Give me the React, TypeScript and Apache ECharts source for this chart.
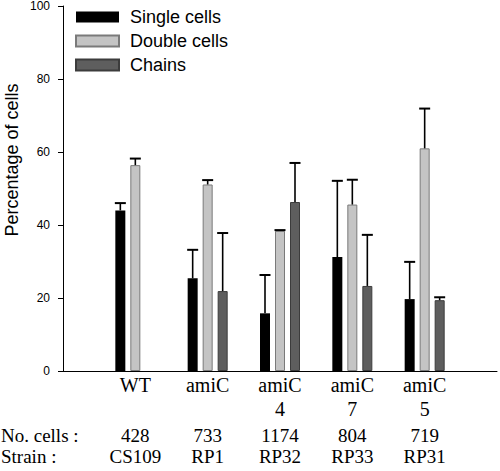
import React, { useEffect, useRef } from "react";
import * as echarts from "echarts";

// ---- data ----
const groups = ["WT", "amiC", "amiC\n4", "amiC\n7", "amiC\n5"];
const cellCounts = ["428", "733", "1174", "804", "719"];
const strains = ["CS109", "RP1", "RP32", "RP33", "RP31"];
const seriesNames = ["Single cells", "Double cells", "Chains"];

const singleCells = [44, 25.4, 15.8, 31.2, 19.7];
const singleErr = [2, 7.8, 10.5, 20.9, 10.2];
const doubleCells = [56.4, 51.1, 38.4, 45.6, 61];
const doubleErr = [1.8, 1.2, 0.2, 6.8, 10.9];
const chains: (number | null)[] = [null, 21.9, 46.3, 23.3, 19.4];
const chainsErr: (number | null)[] = [null, 15.9, 10.7, 14, 0.8];

const yMin = 0;
const yMax = 100;
const yInterval = 20;

// ---- style ----
const BAR_W = 10;
const BAR_GAP = 5;
const SANS = "'Liberation Sans', Arial, sans-serif";
const SERIF = "'Liberation Serif', 'Times New Roman', serif";
const fills = ["#000000", "#c4c4c4", "#5e5e5e"];
const borders = ["#000000", "#7a7a7a", "#3c3c3c"];
const X_MAX = 5.57;

export default function App() {
  const ref = useRef<HTMLDivElement>(null);

  useEffect(() => {
    if (!ref.current) return;
    const chart = echarts.init(ref.current, undefined, { renderer: "svg" });

    const values = [singleCells, doubleCells, chains];
    const errs = [singleErr, doubleErr, chainsErr];

    const barSeries = values.map((vals, k) => ({
      type: "bar",
      name: seriesNames[k],
      xAxisIndex: 0,
      barWidth: BAR_W,
      barGap: `${(BAR_GAP / BAR_W) * 100}%`,
      data: ["-", ...vals.map((v) => (v == null ? "-" : v))],
      itemStyle: { color: fills[k], borderColor: borders[k], borderWidth: k === 0 ? 0 : 1 },
      z: 2,
    }));

    const errSeries = values.map((vals, k) => {
      const offset = (k - 1) * (BAR_W + BAR_GAP);
      const data: number[][] = [];
      vals.forEach((v, i) => {
        const e = errs[k][i];
        if (v != null && e != null) data.push([i + 1, v, v + e]);
      });
      return {
        type: "custom",
        name: seriesNames[k] + " error",
        xAxisIndex: 0,
        z: 3,
        encode: { x: 0, y: [1, 2] },
        data,
        renderItem: (params: any, api: any) => {
          const base = api.coord([api.value(0), api.value(1)]);
          const top = api.coord([api.value(0), api.value(2)]);
          const x = base[0] + offset;
          return {
            type: "group",
            children: [
              {
                type: "line",
                shape: { x1: x, y1: base[1], x2: x, y2: top[1] },
                style: { stroke: "#000", lineWidth: 1.6 },
              },
              {
                type: "line",
                shape: { x1: x - 5.5, y1: top[1], x2: x + 5.5, y2: top[1] },
                style: { stroke: "#000", lineWidth: 2 },
              },
            ],
          };
        },
      };
    });

    const catAxis = (
      data: string[],
      offset: number,
      fontSize: number,
      lineHeight: number,
      showLine: boolean
    ) => ({
      type: "category",
      gridIndex: 0,
      position: "bottom",
      offset,
      boundaryGap: false,
      min: 0,
      max: X_MAX,
      data: ["", ...data],
      axisLine: { show: showLine, onZero: false, lineStyle: { color: "#000", width: 1 } },
      axisTick: { show: false },
      splitLine: { show: false },
      axisLabel: {
        margin: 2,
        interval: 0,
        color: "#000",
        fontFamily: SERIF,
        fontSize,
        lineHeight,
      },
    });

    chart.setOption({
      animation: false,
      backgroundColor: "#fff",
      grid: { left: 63, right: 0, top: 5, bottom: 100, containLabel: false },
      legend: {
        data: seriesNames,
        orient: "vertical",
        left: 75,
        top: 7,
        padding: 0,
        itemGap: 4,
        itemWidth: 43,
        itemHeight: 11,
        icon: "rect",
        selectedMode: false,
        textStyle: {
          fontFamily: SANS,
          fontSize: 18,
          lineHeight: 20,
          color: "#000",
          padding: [0, 0, 0, 6],
        },
      },
      xAxis: [
        catAxis(groups, 0, 20, 24, true),
        catAxis(cellCounts, 53, 19, 19, false),
        catAxis(strains, 74, 19, 19, false),
      ],
      yAxis: {
        type: "value",
        min: yMin,
        max: yMax,
        interval: yInterval,
        axisLine: { show: true, lineStyle: { color: "#000", width: 1 } },
        axisTick: { show: true, inside: false, length: 5, lineStyle: { color: "#000" } },
        splitLine: { show: false },
        axisLabel: { margin: 13, color: "#000", fontFamily: SANS, fontSize: 12 },
      },
      graphic: [
        {
          type: "text",
          x: 12,
          y: 160,
          rotation: Math.PI / 2,
          style: {
            text: "Percentage of cells",
            font: `18px ${SANS}`,
            fill: "#000",
            align: "center",
            verticalAlign: "middle",
          },
        },
        {
          type: "text",
          x: 1,
          y: 435.5,
          style: {
            text: "No. cells :",
            font: `19px ${SERIF}`,
            lineHeight: 19,
            fill: "#000",
            align: "left",
            verticalAlign: "middle",
          },
        },
        {
          type: "text",
          x: 1,
          y: 456.5,
          style: {
            text: "Strain :",
            font: `19px ${SERIF}`,
            lineHeight: 19,
            fill: "#000",
            align: "left",
            verticalAlign: "middle",
          },
        },
      ],
      series: [...barSeries, ...errSeries],
    });

    return () => chart.dispose();
  }, []);

  return (
    <div
      ref={ref}
      style={{ position: "fixed", left: 0, top: 0, width: 500, height: 471, background: "#fff" }}
    />
  );
}
